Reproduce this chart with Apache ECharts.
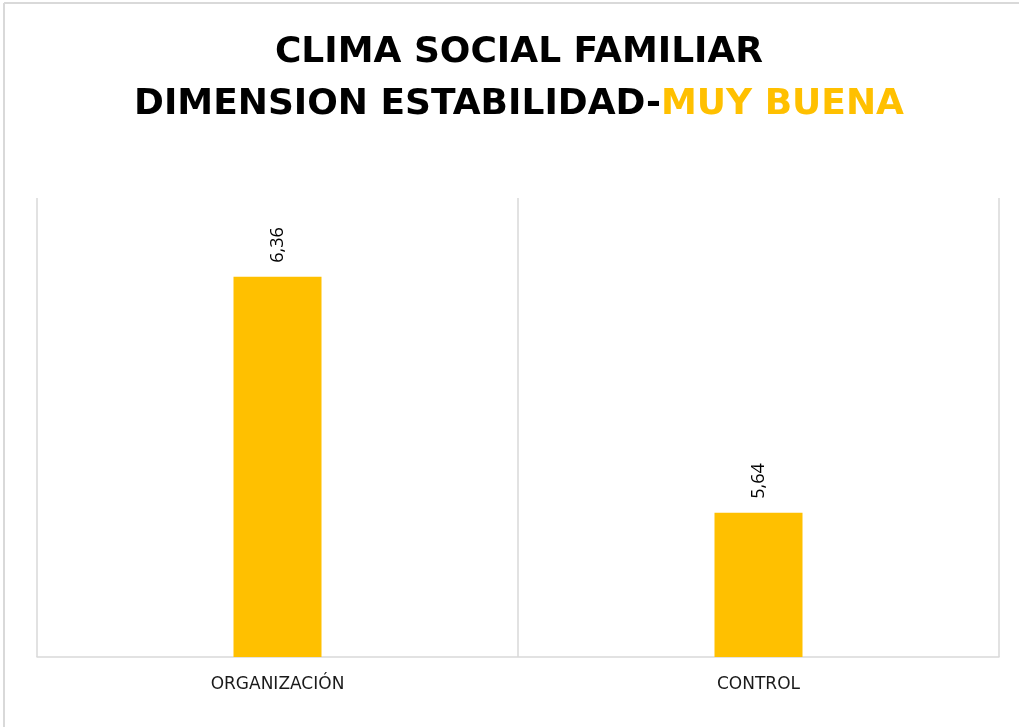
<!DOCTYPE html>
<html>
<head>
<meta charset="utf-8">
<script src="https://cdn.jsdelivr.net/npm/echarts@6/dist/echarts.min.js"></script>
<style>
  html, body { margin: 0; padding: 0; background: #fff; }
  #chart { width: 1019px; height: 727px; }
</style>
</head>
<body>
<div id="chart"></div>
<script>
var categories = ['ORGANIZACIÓN', 'CONTROL'];
var values = [6.36, 5.64];

var chart = echarts.init(document.getElementById('chart'));

var option = {
    backgroundColor: '#fff',
    graphic: [
        { type: 'line', shape: { x1: 4, y1: 3, x2: 1030, y2: 3 }, style: { stroke: '#d9d9d9', lineWidth: 2 } },
        { type: 'line', shape: { x1: 4, y1: 3, x2: 4, y2: 740 }, style: { stroke: '#d9d9d9', lineWidth: 2 } },
        {
            // title drawn as text so it can sit slightly right of the page centre
            type: 'text',
            x: 519,
            y: 27,
            style: {
                text: '{b|CLIMA SOCIAL FAMILIAR}\n{b|DIMENSION ESTABILIDAD-}{y|MUY BUENA}',
                align: 'center',
                rich: {
                    b: { fontFamily: 'DejaVu Sans', fontWeight: 'bold', fontSize: 36, fill: '#000', lineHeight: 52 },
                    y: { fontFamily: 'DejaVu Sans', fontWeight: 'bold', fontSize: 36, fill: '#FFC000', lineHeight: 52 }
                }
            }
        }
    ],
    grid: { left: 37, right: 20, top: 198, bottom: 70 },
    xAxis: {
        type: 'category',
        data: categories,
        axisTick: { show: false },
        axisLine: { lineStyle: { color: '#d9d9d9', width: 1.5 } },
        axisLabel: { color: '#1a1a1a', fontFamily: 'DejaVu Sans', fontSize: 17, margin: 19 },
        splitLine: { show: true, lineStyle: { color: '#d9d9d9', width: 1.5 } }
    },
    yAxis: {
        type: 'value',
        min: 5.2,
        max: 6.6,
        show: false
    },
    series: [{
        type: 'bar',
        data: values,
        barWidth: 88,
        itemStyle: { color: '#FFC000' },
        label: {
            show: true,
            position: 'top',
            rotate: 90,
            align: 'left',
            verticalAlign: 'middle',
            distance: 14,
            color: '#000',
            fontFamily: 'Open Sans',
            fontSize: 18,
            formatter: function (p) { return p.value.toFixed(2).replace('.', ','); }
        }
    }]
};
chart.setOption(option);
</script>
</body>
</html>
